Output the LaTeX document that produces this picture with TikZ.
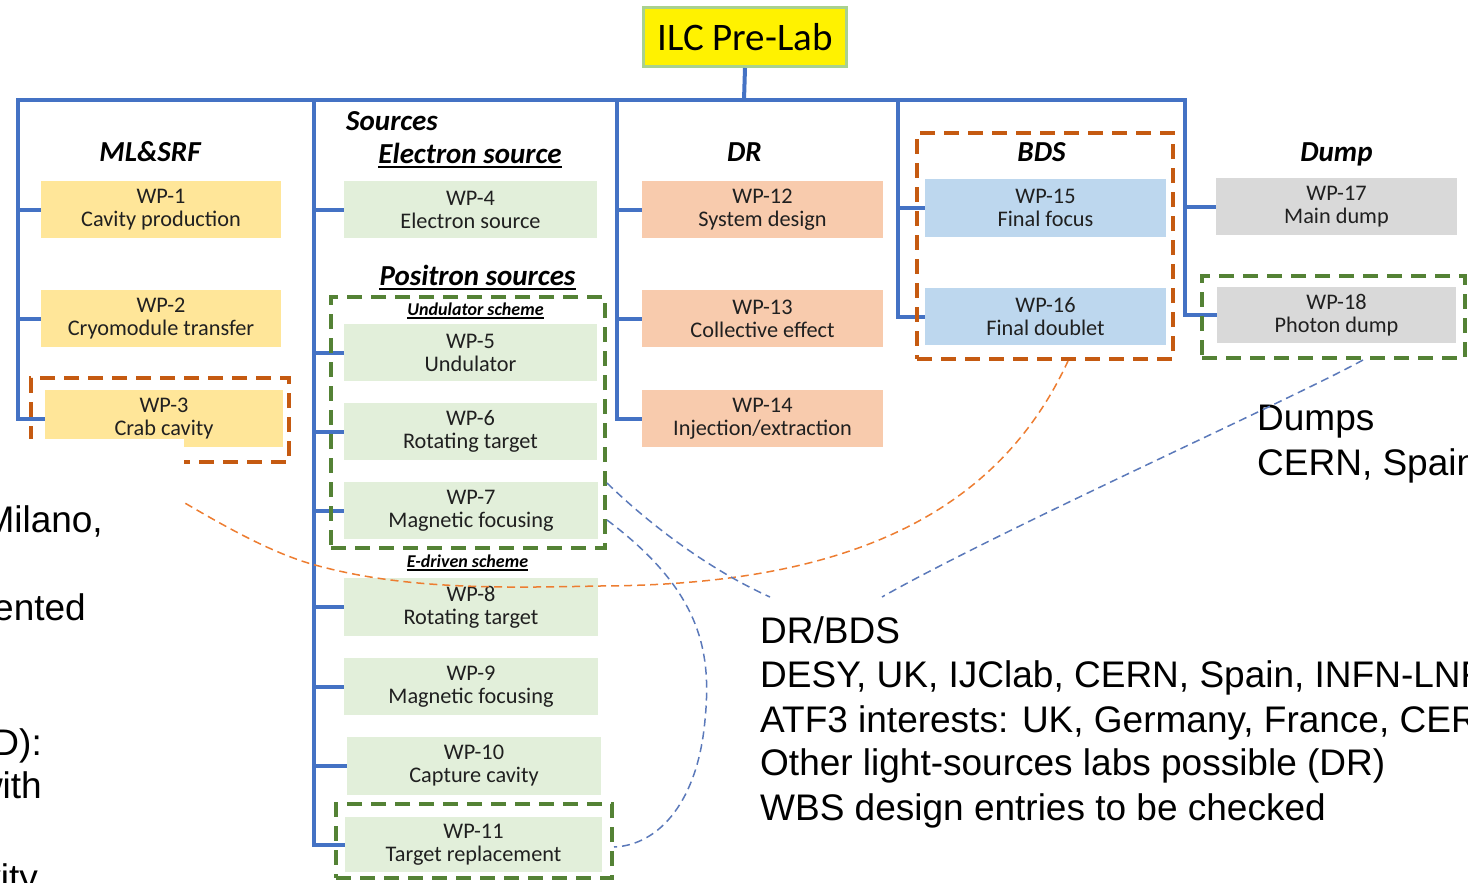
\documentclass[tikz,border=0pt]{standalone}
\usepackage{fontspec}
\setmainfont{Carlito}
\newfontfamily\slidefont{Liberation Sans}
\usetikzlibrary{calc}
\definecolor{treeblue}{HTML}{4472C4}
\definecolor{yel}{HTML}{FFE699}
\definecolor{grn}{HTML}{E2EFDA}
\definecolor{sal}{HTML}{F8CBAD}
\definecolor{lblue}{HTML}{BDD7EE}
\definecolor{gry}{HTML}{D9D9D9}
\definecolor{odash}{HTML}{C55A11}
\definecolor{gdash}{HTML}{548235}
\definecolor{ocur}{HTML}{ED7D31}
\definecolor{bcur}{HTML}{5B79BA}
\definecolor{txtc}{HTML}{202020}
\definecolor{ilcborder}{HTML}{A9D18E}
\begin{document}
\begin{tikzpicture}[x=1pt,y=-1pt,
  tree/.style={treeblue, line width=4pt},
  wpbox/.style={inner sep=0pt, align=center, text=txtc, font=\fontsize{22.3}{23}\selectfont},
  hdr/.style={inner sep=0pt, font=\fontsize{29}{30}\selectfont\bfseries\itshape},
  subhdr/.style={inner sep=0pt, font=\fontsize{18}{20}\selectfont\bfseries\itshape},
  obox/.style={draw=odash, line width=4pt, dash pattern=on 15pt off 9pt, inner sep=0pt},
  gbox/.style={draw=gdash, line width=4pt, dash pattern=on 15pt off 9pt, inner sep=0pt},
  ocurve/.style={draw=ocur, line width=1.5pt, dash pattern=on 8pt off 5pt},
  bcurve/.style={draw=bcur, line width=1.5pt, dash pattern=on 8pt off 5pt},
  slide/.style={inner sep=0pt, font=\slidefont\fontsize{37}{44}\selectfont, text=black},
  uline/.style={line width=1.6pt}
]
\useasboundingbox (0,0) rectangle (1468,883);
\clip (0,0) rectangle (1468,883);

% root
\node[draw=ilcborder, line width=3pt, fill=yellow, minimum width=203pt, minimum height=59pt,
      inner sep=0pt, font=\fontsize{39}{40}\selectfont] (root) at (745,37) {ILC Pre-Lab};

% work package boxes
\node[wpbox, fill=yel, minimum width=240pt, minimum height=57pt] (wp1) at (161,209.5) {WP-1\\Cavity production};
\node[wpbox, fill=yel, minimum width=240pt, minimum height=57pt] (wp2) at (161,318.5) {WP-2\\Cryomodule transfer};
\node[wpbox, fill=yel, minimum width=238pt, minimum height=57pt] (wp3) at (164,418.5) {WP-3\\Crab cavity};

\node[wpbox, fill=grn, minimum width=253pt, minimum height=57pt] (wp4) at (470.5,209.5) {WP-4\\Electron source};
\node[wpbox, fill=grn, minimum width=253pt, minimum height=57pt] (wp5) at (470.5,352.5) {WP-5\\Undulator};
\node[wpbox, fill=grn, minimum width=253pt, minimum height=57pt] (wp6) at (470.5,431.5) {WP-6\\Rotating target};
\node[wpbox, fill=grn, minimum width=254pt, minimum height=57pt] (wp7) at (471,510.5) {WP-7\\Magnetic focusing};
\node[wpbox, fill=grn, minimum width=254pt, minimum height=58pt] (wp8) at (471,607) {WP-8\\Rotating target};
\node[wpbox, fill=grn, minimum width=254pt, minimum height=57pt] (wp9) at (471,686.5) {WP-9\\Magnetic focusing};
\node[wpbox, fill=grn, minimum width=254pt, minimum height=58pt] (wp10) at (474,766) {WP-10\\Capture cavity};
\node[wpbox, fill=grn, minimum width=257pt, minimum height=55pt] (wp11) at (473.5,844.5) {WP-11\\Target replacement};

\node[wpbox, fill=sal, minimum width=241pt, minimum height=57pt] (wp12) at (762.5,209.5) {WP-12\\System design};
\node[wpbox, fill=sal, minimum width=241pt, minimum height=57pt] (wp13) at (762.5,318.5) {WP-13\\Collective effect};
\node[wpbox, fill=sal, minimum width=241pt, minimum height=57pt] (wp14) at (762.5,418.5) {WP-14\\Injection/extraction};

\node[wpbox, fill=lblue, minimum width=241pt, minimum height=58pt] (wp15) at (1045.5,208) {WP-15\\Final focus};
\node[wpbox, fill=lblue, minimum width=241pt, minimum height=57pt] (wp16) at (1045.5,316.5) {WP-16\\Final doublet};

\node[wpbox, fill=gry, minimum width=241pt, minimum height=57pt] (wp17) at (1336.5,206.5) {WP-17\\Main dump};
\node[wpbox, fill=gry, minimum width=239pt, minimum height=56pt] (wp18) at (1336.5,315) {WP-18\\Photon dump};

% tree
\coordinate (c1) at (18,100);
\coordinate (c2) at (314,100);
\coordinate (c3) at (617,100);
\coordinate (c4) at (898,100);
\coordinate (c5) at (1185,100);
\coordinate (bus) at (744,100);
\draw[tree] (root.south) -- (bus);
\draw[tree] (wp3.west) -| (c1) -- (c5) |- (wp18.west);
\draw[tree] (c2) |- (wp11.west);
\draw[tree] (c3) |- (wp14.west);
\draw[tree] (c4) |- (wp16.west);
\foreach \n in {wp1,wp2}{\draw[tree] (c1 |- \n.west) -- (\n.west);}
\foreach \n in {wp4,wp5,wp6,wp7,wp8,wp9,wp10}{\draw[tree] (c2 |- \n.west) -- (\n.west);}
\foreach \n in {wp12,wp13}{\draw[tree] (c3 |- \n.west) -- (\n.west);}
\draw[tree] (c4 |- wp15.west) -- (wp15.west);
\draw[tree] (c5 |- wp17.west) -- (wp17.west);

% headers
\node[hdr, anchor=base] (hml) at (150,161) {ML\&SRF};
\node[hdr, anchor=base west] (hsrc) at (346,130) {Sources};
\node[hdr, anchor=base] (hel) at (470,163) {Electron source};
\draw[uline] ([yshift=-4pt]hel.base west) -- ([yshift=-4pt]hel.base east);
\node[hdr, anchor=base] (hpos) at (477.5,285) {Positron sources};
\draw[uline] ([yshift=-4pt]hpos.base west) -- ([yshift=-4pt]hpos.base east);
\node[subhdr, anchor=base] (hund) at (475.5,315) {Undulator scheme};
\draw[line width=1.1pt] ([yshift=-3pt]hund.base west) -- ([yshift=-3pt]hund.base east);
\node[subhdr, anchor=base] (hedr) at (467.5,567) {E-driven scheme};
\draw[line width=1.1pt] ([yshift=-3pt]hedr.base west) -- ([yshift=-3pt]hedr.base east);
\node[hdr, anchor=base] (hdr) at (744.5,161) {DR};
\node[hdr, anchor=base] (hbds) at (1041.5,161) {BDS};
\node[hdr, anchor=base] (hdump) at (1336.5,161) {Dump};

% dashed group boxes
\node[obox, minimum width=258pt, minimum height=84pt] (crabbox) at (160,420) {};
\node[gbox, minimum width=274pt, minimum height=251pt] (undbox) at (468,422.5) {};
\node[gbox, minimum width=276pt, minimum height=74pt] (tgtbox) at (474,841) {};
\node[obox, minimum width=256pt, minimum height=226pt] (bdsbox) at (1045,246) {};
\node[gbox, minimum width=263pt, minimum height=82pt] (dumpbox) at (1333.5,317) {};

% right-side slide text
\node[slide, anchor=base west] (drbds) at (760,643) {DR/BDS};
\node[slide, anchor=base west] (drl1) at (760,687) {DESY, UK, IJClab, CERN, Spain, INFN-LNF};
\node[slide, anchor=base west] (drl2) at (760,732) {ATF3 interests: UK, Germany, France, CERN};
\node[slide, anchor=base west] (drl3) at (760,775) {Other light-sources labs possible (DR)};
\node[slide, anchor=base west] (drl4) at (760,820) {WBS design entries to be checked};
\node[slide, anchor=base west] (dumps) at (1257,430) {Dumps};
\node[slide, anchor=base west] (dumpl) at (1257,475) {CERN, Spain};
\coordinate (dre1) at (770,597);
\coordinate (dre3) at (882,597);

% dashed relation curves
\draw[ocurve] ([xshift=-42pt]crabbox.south) .. controls (190,505) and (250,545) .. (308,563)
   .. controls (400,590) and (500,588) .. (600,586)
   .. controls (820,585) and (990,530) .. ([xshift=23pt]bdsbox.south);
\draw[bcurve] ([yshift=-60.5pt]undbox.east) .. controls (650,525) and (710,570) .. (dre1);
\draw[bcurve] ([yshift=-97.5pt]undbox.east) .. controls (700,590) and (712,650) .. (705,720)
   .. controls (698,800) and (660,845) .. ([yshift=-6pt]tgtbox.east);
\draw[bcurve] ([xshift=29.5pt]dumpbox.south) .. controls (1290,400) and (1000,530) .. (dre3);

% left slide text panel
\fill[white] (0,439) rectangle (184,883);
\node[slide, anchor=base east] (tmil) at (103,532) {Milano,};
\node[slide, anchor=base east] (tent) at (86,620) {ented};
\node[slide, anchor=base east] (tdc) at (42,755) {D):};
\node[slide, anchor=base east] (twith) at (42,798) {with};
\node[slide, anchor=base east] (tvity) at (38,890) {vity};
\end{tikzpicture}
\end{document}
